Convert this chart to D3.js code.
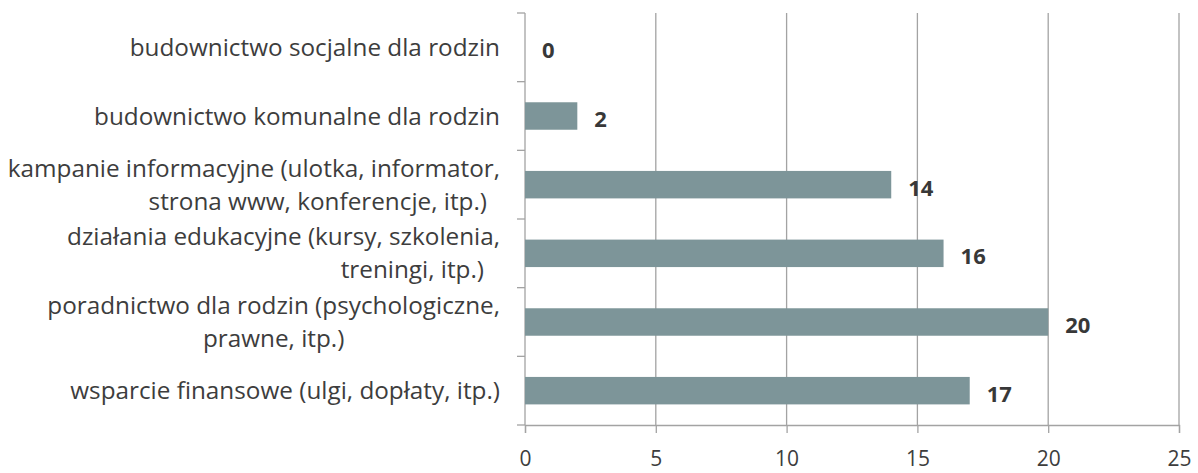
<!DOCTYPE html>
<html>
<head>
<meta charset="utf-8">
<script src="https://cdn.jsdelivr.net/npm/d3@7"></script>
<style>
  html, body { margin: 0; padding: 0; background: #ffffff; }
  svg { display: block; }
  text { font-family: "Open Sans", "Noto Sans", sans-serif; }
</style>
</head>
<body>
<svg id="chart" width="1198" height="473"></svg>
<script>
// Category labels, top to bottom; "\n" marks a line break in the label.
const categories = [
  "budownictwo socjalne dla rodzin",
  "budownictwo komunalne dla rodzin",
  "kampanie informacyjne (ulotka, informator,\nstrona www, konferencje, itp.)",
  "działania edukacyjne (kursy, szkolenia,\ntreningi, itp.)",
  "poradnictwo dla rodzin (psychologiczne,\nprawne, itp.)",
  "wsparcie finansowe (ulgi, dopłaty, itp.)"
];
const values = [0, 2, 14, 16, 20, 17];
const xTicks = [0, 5, 10, 15, 20, 25];

const svg = d3.select("#chart");
const margin = { top: 13, right: 19, bottom: 48, left: 525 };
const W = 1198, H = 473;
const innerRight = W - margin.right;
const innerBottom = H - margin.bottom;

const axisColor = "#a3a3a3";
const textColor = "#3d3d3d";
const barColor = "#7d9599";

const x = d3.scaleLinear().domain([0, 25]).range([margin.left, innerRight]);
const y = d3.scaleBand().domain(categories).range([margin.top, innerBottom])
  .paddingInner(0.6).paddingOuter(0.3);

// Vertical gridlines
svg.append("g")
  .selectAll("line")
  .data(xTicks.filter(t => t > 0))
  .join("line")
  .attr("x1", d => x(d)).attr("x2", d => x(d))
  .attr("y1", margin.top).attr("y2", innerBottom)
  .attr("stroke", axisColor).attr("stroke-width", 1.3);

// Bottom axis
const xAxis = d3.axisBottom(x).tickValues(xTicks).tickSize(8).tickPadding(18)
  .tickFormat(d3.format("d"));
const gx = svg.append("g").attr("transform", `translate(0,${innerBottom})`).call(xAxis);
gx.select(".domain").attr("stroke", axisColor).attr("stroke-width", 1.3);
gx.selectAll(".tick line").attr("stroke", axisColor).attr("stroke-width", 1.3);
gx.selectAll(".tick text")
  .attr("fill", textColor)
  .style("font-size", "21px")
  .style("font-family", "'Open Sans', sans-serif");

// Left axis line with ticks at category boundaries
const boundaries = d3.range(categories.length + 1).map(i => margin.top + i * (innerBottom - margin.top) / categories.length);
const gy = svg.append("g");
gy.append("line")
  .attr("x1", x(0)).attr("x2", x(0))
  .attr("y1", margin.top).attr("y2", innerBottom)
  .attr("stroke", axisColor).attr("stroke-width", 1.3);
gy.selectAll("line.tick")
  .data(boundaries)
  .join("line")
  .attr("class", "tick")
  .attr("x1", x(0) - 8).attr("x2", x(0))
  .attr("y1", d => d).attr("y2", d => d)
  .attr("stroke", axisColor).attr("stroke-width", 1.3);

// Bars
svg.append("g")
  .selectAll("rect")
  .data(categories.map((c, i) => ({ c, v: values[i] })))
  .join("rect")
  .attr("x", x(0))
  .attr("y", d => y(d.c))
  .attr("width", d => x(d.v) - x(0))
  .attr("height", y.bandwidth())
  .attr("fill", barColor);

// Value labels
svg.append("g")
  .selectAll("text")
  .data(categories.map((c, i) => ({ c, v: values[i] })))
  .join("text")
  .attr("x", d => x(d.v) + 17)
  .attr("y", d => y(d.c) + y.bandwidth() / 2 + 11)
  .attr("fill", "#383838")
  .style("font-size", "22px")
  .style("font-weight", "700")
  .text(d => d.v);

// Category labels (multi-line, right aligned next to the axis)
const labelX = 500;
const lineGap = 33;
const fontSize = 24.3;
const secondLineIndent = { 2: 13, 3: 16 };
const centeredSecondLine = { 4: true };
const gl = svg.append("g");
categories.forEach((c, i) => {
  const lines = c.split("\n");
  const cy = y(c) + y.bandwidth() / 2;
  let firstWidth = 0;
  lines.forEach((ln, j) => {
    const t = gl.append("text")
      .attr("fill", textColor)
      .style("font-size", fontSize + "px")
      .attr("y", cy + (j - (lines.length - 1) / 2) * lineGap + fontSize * 0.35)
      .text(ln);
    if (j === 0) {
      t.attr("x", labelX).attr("text-anchor", "end");
      firstWidth = t.node().getComputedTextLength();
    } else if (centeredSecondLine[i]) {
      t.attr("x", labelX - firstWidth / 2).attr("text-anchor", "middle");
    } else {
      t.attr("x", labelX - (secondLineIndent[i] || 0)).attr("text-anchor", "end");
    }
  });
});
</script>
</body>
</html>
